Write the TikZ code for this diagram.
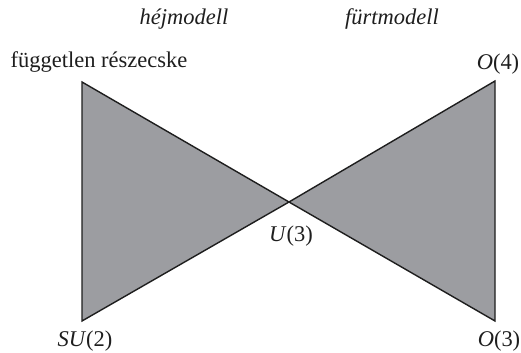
\documentclass[tikz,border=0pt]{standalone}
\usepackage{fontspec}
\setmainfont{Liberation Serif}
\usetikzlibrary{positioning}
\definecolor{bowfill}{HTML}{9C9DA1}
\definecolor{bowink}{HTML}{1E1E1E}

\begin{document}
\begin{tikzpicture}[
    x=0.02cm,
    y=0.02cm,
    wedge/.style={fill=bowfill, draw=bowink, line width=0.8pt, line join=miter},
    grouplabel/.style={font=\fontsize{12.8}{15}\selectfont, text=bowink, inner sep=0pt, anchor=base},
    modellabel/.style={font=\fontsize{12.8}{15}\selectfont\itshape, text=bowink, inner sep=0pt, anchor=base}
  ]
    \useasboundingbox (0,0) rectangle (521,352);

    \coordinate (indep) at (82,270);
    \coordinate (su2) at (82,31);
    \coordinate (u3) at (289,150);
    \coordinate (o4) at (495,271);
    \coordinate (o3) at (495,31);

    % two wedges meeting at U(3)
    \draw[wedge] (indep) -- (u3) -- (su2) -- cycle;
    \draw[wedge] (o4) -- (u3) -- (o3) -- cycle;

    \node[modellabel] (L-shell) at (184,327) {héjmodell};
    \node[modellabel] (L-cluster) at (392,327) {fürtmodell};

    \node[grouplabel] (L-indep) at (99,284) {független részecske};
    \node[grouplabel] (L-o4) at (498,282) {\textit{O}(4)};
    \node[grouplabel] (L-u3) at (291,111) {\textit{U}(3)};
    \node[grouplabel] (L-su2) at (85,6) {\textit{SU}(2)};
    \node[grouplabel] (L-o3) at (499,6) {\textit{O}(3)};

  \end{tikzpicture}
\end{document}
